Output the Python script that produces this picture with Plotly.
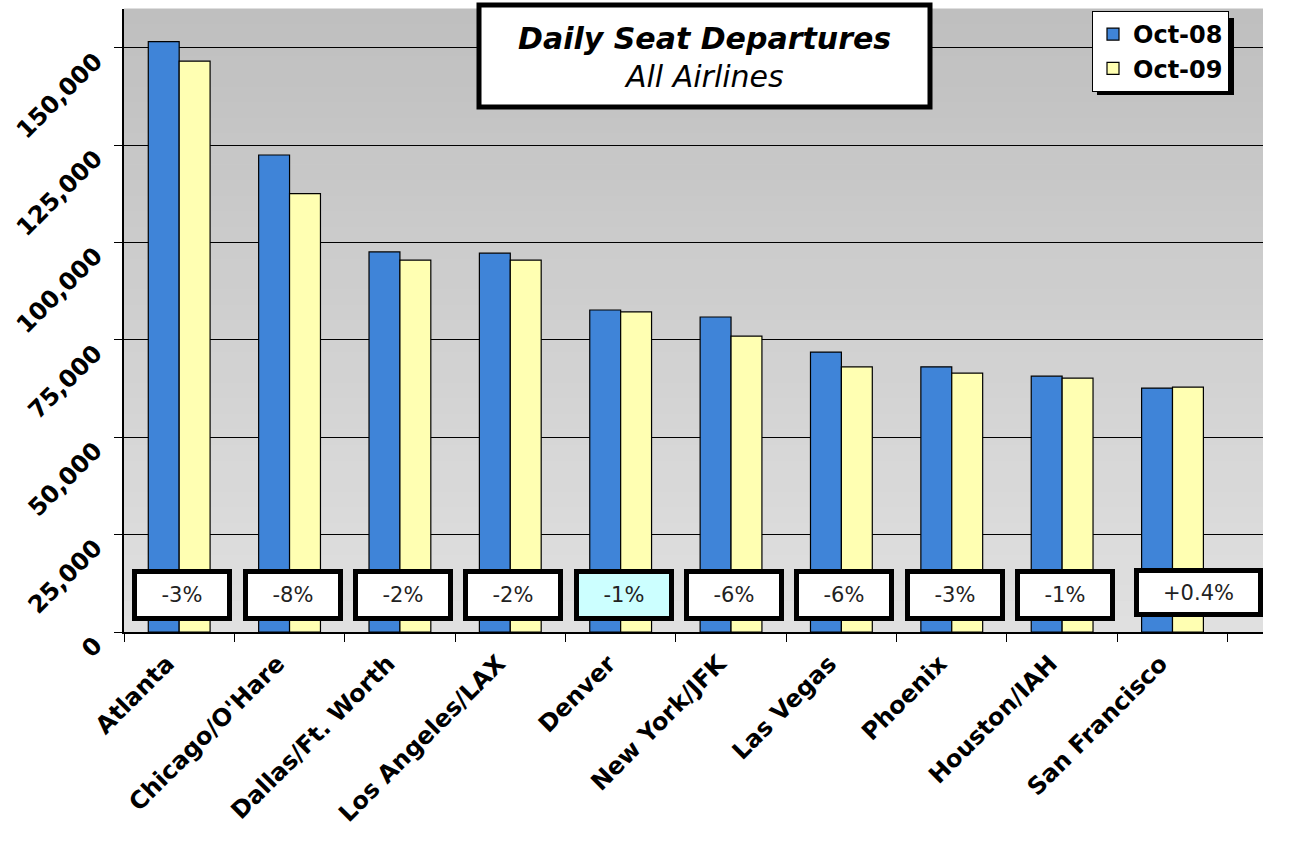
"""Daily seat departures by airport, Oct-08 vs Oct-09."""

import plotly.graph_objects as go

airports = ["Atlanta", "Chicago/O'Hare", "Dallas/Ft. Worth", "Los Angeles/LAX", "Denver",
            "New York/JFK", "Las Vegas", "Phoenix", "Houston/IAH", "San Francisco"]
oct08 = [151600, 122500, 97600, 97300, 82700, 80900, 71900, 68100, 65700, 62650]
oct09 = [146600, 112600, 95500, 95500, 82200, 76000, 68100, 66500, 65200, 62900]
pct_labels = ["-3%", "-8%", "-2%", "-2%", "-1%", "-6%", "-6%", "-3%", "-1%", "+0.4%"]
y_ticks = [0, 25000, 50000, 75000, 100000, 125000, 150000]

FONT = "Verdana, DejaVu Sans, sans-serif"
BLUE = "#3f84d8"
YELLOW = "#ffffb2"


def px_x(p):
    # pixel -> paper, plot area spans 124..1263
    return (p - 124) / 1139


def px_y(p):
    # pixel -> paper, plot area spans 9..632
    return (632 - p) / 623


fig = go.Figure()
fig.add_trace(go.Bar(x=airports, y=oct08, name="Oct-08",
                     marker=dict(color=BLUE, line=dict(color="black", width=1.2))))
fig.add_trace(go.Bar(x=airports, y=oct09, name="Oct-09",
                     marker=dict(color=YELLOW, line=dict(color="black", width=1.2))))

# grey gradient behind the plot area
n = 40
for i in range(n):
    t = i / (n - 1)
    c = int(round(0xe0 - (0xe0 - 0xbf) * t))
    fig.add_shape(type="rect", xref="paper", yref="paper",
                  x0=0, x1=1, y0=i / n, y1=(i + 1) / n + 0.001,
                  fillcolor=f"rgb({c},{c},{c})", line=dict(width=0), layer="below")

# title box
fig.add_shape(type="rect", xref="paper", yref="paper",
              x0=px_x(479), x1=px_x(930), y0=px_y(107), y1=px_y(5),
              fillcolor="white", line=dict(color="black", width=5), layer="above")
fig.add_annotation(text="<b><i>Daily Seat Departures</i></b>", xref="paper", yref="paper",
                   x=px_x(704), y=px_y(39), showarrow=False,
                   xanchor="center", yanchor="middle",
                   font=dict(family=FONT, size=30, color="black"))
fig.add_annotation(text="<i>All Airlines</i>", xref="paper", yref="paper",
                   x=px_x(704), y=px_y(77), showarrow=False,
                   xanchor="center", yanchor="middle",
                   font=dict(family=FONT, size=30, color="black"))

# legend shadow
fig.add_shape(type="rect", xref="paper", yref="paper",
              x0=px_x(1097), x1=px_x(1234), y0=px_y(95), y1=px_y(18),
              fillcolor="black", line=dict(width=0), layer="above")

# percent change boxes
for i, (a, lab) in enumerate(zip(airports, pct_labels)):
    last = i == len(airports) - 1
    fig.add_annotation(text=lab, x=a, y=9500, xref="x", yref="y",
                       showarrow=False, yanchor="middle",
                       width=119 if last else 90, height=39 if last else 42,
                       xshift=26 if last else 3, yshift=3 if last else 0,
                       bgcolor="#ccffff" if a == "Denver" else "white",
                       bordercolor="black", borderwidth=5, borderpad=0,
                       font=dict(family=FONT, size=21, color="#222222"))

fig.update_layout(
    width=1303, height=842,
    margin=dict(l=124, r=40, t=9, b=210),
    paper_bgcolor="white",
    plot_bgcolor="#d0d0d0",
    barmode="group", bargap=0.44, bargroupgap=0,
    font=dict(family=FONT, color="black"),
    legend=dict(x=px_x(1092), y=px_y(11), xanchor="left", yanchor="top",
                bgcolor="white", bordercolor="black", borderwidth=1,
                font=dict(family=FONT, size=24, color="black", weight="bold"),
                tracegroupgap=0),
    xaxis=dict(showline=True, linecolor="black", linewidth=2, automargin=False,
               ticks="outside", ticklen=8, tickcolor="black", tickson="boundaries",
               tickangle=-45, tickfont=dict(family=FONT, size=24, weight="bold"),
               ticklabelshift=-12, ticklabelstandoff=6, showgrid=False),
    yaxis=dict(range=[0, 160000], tickvals=y_ticks, tickformat=",", automargin=False,
               showline=True, linecolor="black", linewidth=2,
               ticks="outside", ticklen=8, tickcolor="black",
               tickangle=-45, tickfont=dict(family=FONT, size=24, weight="bold"),
               ticklabelshift=10, ticklabelstandoff=14,
               showgrid=True, gridcolor="black", gridwidth=1, zeroline=False),
)

# page body margin would push the figure 8px off
fig.write_html("out.html", config={"displayModeBar": False},
               post_script="document.body.style.margin = '0';")
